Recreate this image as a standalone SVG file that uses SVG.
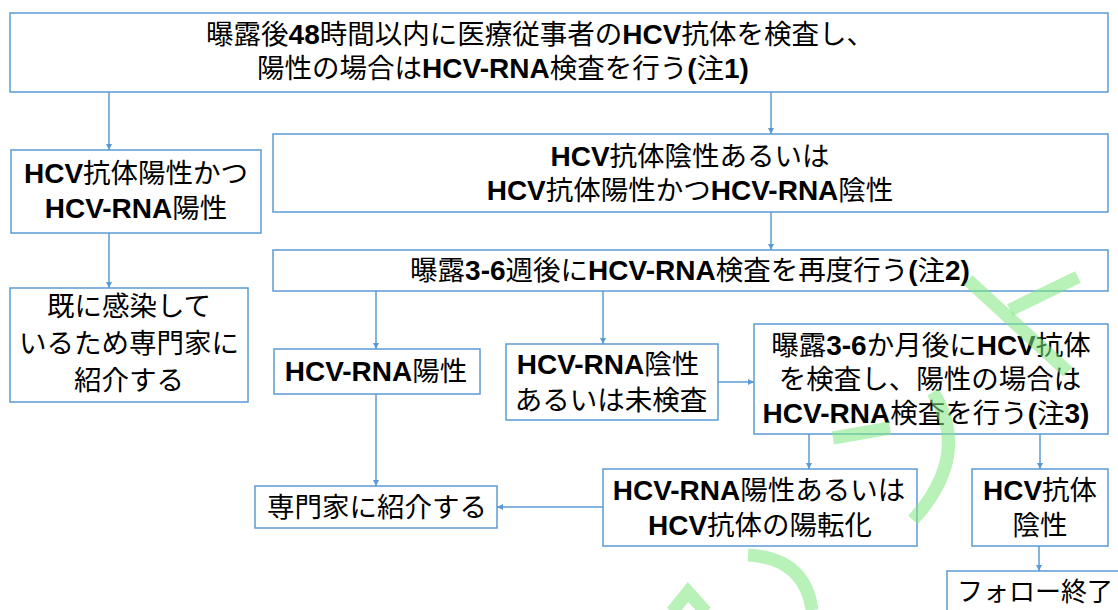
<svg xmlns="http://www.w3.org/2000/svg" width="1118" height="610" viewBox="0 0 1118 610">
<style>
.box{fill:#fff;stroke:#5b9bd5;stroke-width:1.5}
.t{font-family:"Noto Sans CJK JP","Liberation Sans",sans-serif;font-size:27.5px;fill:#000;text-anchor:middle}
.b{font-family:"Liberation Sans",Arial,sans-serif;font-weight:bold;font-size:28px}
.c{fill:none;stroke:#5b9bd5;stroke-width:1.5}
.wm{fill:none;stroke:#7ee87e;stroke-width:13;opacity:0.55;stroke-linecap:butt}
</style>
<defs>
<marker id="ah" viewBox="0 0 6 6" refX="6" refY="3" markerWidth="6" markerHeight="6" markerUnits="userSpaceOnUse" orient="auto">
<path d="M0,0 L6,3 L0,6 z" fill="#5b9bd5"/>
</marker>
</defs>
<rect width="1118" height="610" fill="#fff"/>
<g id="connectors">
<path class="c" d="M109,92 V150" marker-end="url(#ah)"/>
<path class="c" d="M771,92 V134" marker-end="url(#ah)"/>
<path class="c" d="M109,233 V288" marker-end="url(#ah)"/>
<path class="c" d="M771,212 V250" marker-end="url(#ah)"/>
<path class="c" d="M376,291 V349" marker-end="url(#ah)"/>
<path class="c" d="M603,291 V344" marker-end="url(#ah)"/>
<path class="c" d="M718,382 H754" marker-end="url(#ah)"/>
<path class="c" d="M376,394 V486" marker-end="url(#ah)"/>
<path class="c" d="M809,434 V469" marker-end="url(#ah)"/>
<path class="c" d="M1040,434 V469" marker-end="url(#ah)"/>
<path class="c" d="M603,507 H497" marker-end="url(#ah)"/>
<path class="c" d="M1039,546 V571" marker-end="url(#ah)"/>
</g>
<g id="n1">
<rect class="box" x="10" y="13" width="1098" height="79"/>
<text class="t"><tspan x="540" y="44">曝露後<tspan class="b">48</tspan>時間以内に医療従事者の<tspan class="b">HCV</tspan>抗体を検査し、</tspan><tspan x="503" y="78">陽性の場合は<tspan class="b">HCV-RNA</tspan>検査を行う<tspan class="b">(</tspan>注<tspan class="b">1)</tspan></tspan></text>
</g>
<g id="n2">
<rect class="box" x="11" y="150" width="250" height="83"/>
<text class="t"><tspan x="136" y="183"><tspan class="b">HCV</tspan>抗体陽性かつ</tspan><tspan x="136" y="218"><tspan class="b">HCV-RNA</tspan>陽性</tspan></text>
</g>
<g id="n3">
<rect class="box" x="273" y="134" width="835" height="78"/>
<text class="t"><tspan x="690" y="166"><tspan class="b">HCV</tspan>抗体陰性あるいは</tspan><tspan x="690" y="200"><tspan class="b">HCV</tspan>抗体陽性かつ<tspan class="b">HCV-RNA</tspan>陰性</tspan></text>
</g>
<g id="n4">
<rect class="box" x="273" y="250" width="835" height="41"/>
<text class="t" x="690" y="280">曝露<tspan class="b">3-6</tspan>週後に<tspan class="b">HCV-RNA</tspan>検査を再度行う<tspan class="b">(</tspan>注<tspan class="b">2)</tspan></text>
</g>
<g id="n5">
<rect class="box" x="10" y="288" width="238" height="114"/>
<text class="t"><tspan x="129" y="316">既に感染して</tspan><tspan x="129" y="353">いるため専門家に</tspan><tspan x="129" y="390">紹介する</tspan></text>
</g>
<g id="n6">
<rect class="box" x="274" y="349" width="206" height="45"/>
<text class="t" x="376" y="381"><tspan class="b">HCV-RNA</tspan>陽性</text>
</g>
<g id="n7">
<rect class="box" x="506" y="344" width="212" height="76"/>
<text class="t"><tspan x="608" y="374"><tspan class="b">HCV-RNA</tspan>陰性</tspan><tspan x="611" y="410">あるいは未検査</tspan></text>
</g>
<g id="n8">
<rect class="box" x="754" y="324" width="354" height="110"/>
<text class="t"><tspan x="931" y="355">曝露<tspan class="b">3-6</tspan>か月後に<tspan class="b">HCV</tspan>抗体</tspan><tspan x="930" y="389">を検査し、陽性の場合は</tspan><tspan x="926" y="423"><tspan class="b">HCV-RNA</tspan>検査を行う<tspan class="b">(</tspan>注<tspan class="b">3)</tspan></tspan></text>
</g>
<g id="n9">
<rect class="box" x="603" y="469" width="314" height="77"/>
<text class="t"><tspan x="759" y="500"><tspan class="b">HCV-RNA</tspan>陽性あるいは</tspan><tspan x="760" y="535"><tspan class="b">HCV</tspan>抗体の陽転化</tspan></text>
</g>
<g id="n10">
<rect class="box" x="255" y="486" width="242" height="42"/>
<text class="t" x="377" y="517">専門家に紹介する</text>
</g>
<g id="n11">
<rect class="box" x="972" y="469" width="136" height="77"/>
<text class="t"><tspan x="1040" y="500"><tspan class="b">HCV</tspan>抗体</tspan><tspan x="1040" y="535">陰性</tspan></text>
</g>
<g id="n12">
<rect class="box" x="947" y="571" width="200" height="60"/>
<text class="t" x="957" y="601" style="text-anchor:start;font-size:26px">フォロー終了</text>
</g>
<g id="watermark">
<path class="wm" d="M968,280 L1068,372"/>
<path class="wm" d="M1010,310 L1078,277"/>
<path class="wm" d="M933,392 Q972,455 913,520"/>
<path class="wm" d="M833,438 L890,428"/>
<path class="wm" d="M748,555 Q805,558 812,610"/>
<path class="wm" d="M672,612 L688,592 L706,612"/>
</g>
</svg>
